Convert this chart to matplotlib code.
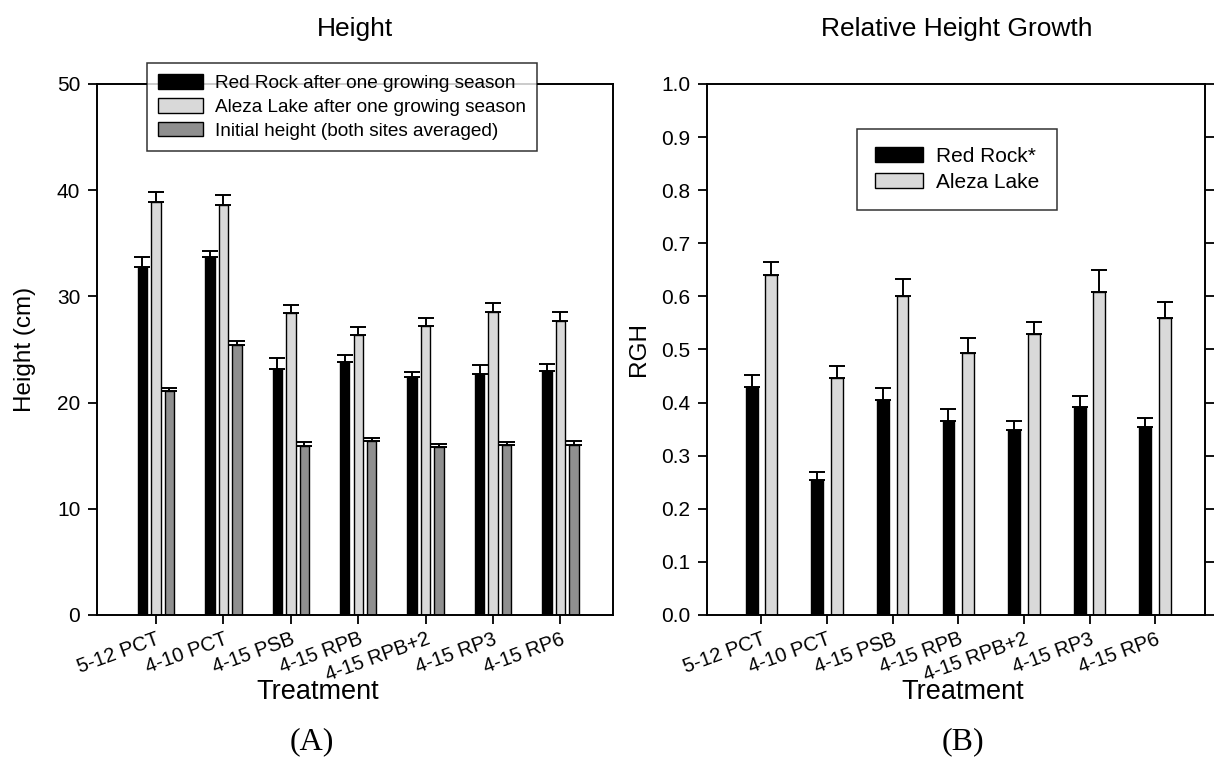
import numpy as np
import matplotlib.pyplot as plt

plt.rcParams['font.family'] = ['Liberation Sans', 'DejaVu Sans']

treatments = ['5-12 PCT', '4-10 PCT', '4-15 PSB', '4-15 RPB', '4-15 RPB+2', '4-15 RP3', '4-15 RP6']

# panel A: height (cm)
red_rock_h = [32.8, 33.7, 23.2, 23.8, 22.4, 22.7, 23.0]
red_rock_h_err = [0.9, 0.6, 1.0, 0.7, 0.5, 0.8, 0.6]
aleza_h = [38.9, 38.6, 28.4, 26.4, 27.2, 28.5, 27.7]
aleza_h_err = [0.95, 0.9, 0.8, 0.7, 0.8, 0.85, 0.8]
initial_h = [21.1, 25.4, 15.9, 16.4, 15.8, 16.0, 16.05]
initial_h_err = [0.3, 0.4, 0.35, 0.3, 0.3, 0.3, 0.35]

# panel B: relative height growth
red_rock_rgh = [0.429, 0.254, 0.405, 0.365, 0.348, 0.392, 0.354]
red_rock_rgh_err = [0.023, 0.015, 0.023, 0.023, 0.018, 0.020, 0.017]
aleza_rgh = [0.640, 0.447, 0.601, 0.494, 0.530, 0.608, 0.559]
aleza_rgh_err = [0.025, 0.022, 0.031, 0.028, 0.022, 0.041, 0.031]

x = np.arange(len(treatments))
black = '#000000'
light = '#d9d9d9'
dark = '#8f8f8f'

fig = plt.figure(figsize=(12.2, 7.72), dpi=100)
ax1 = fig.add_axes([0.0795, 0.2034, 0.423, 0.6878])
ax2 = fig.add_axes([0.5795, 0.2034, 0.4082, 0.6878])

ekw = dict(capsize=6, ecolor='black', elinewidth=1.4, capthick=1.4)
w = 0.14
zeros = np.zeros(len(x))
ax1.bar(x - 0.2, red_rock_h, w, color=black, edgecolor='black', linewidth=1,
        yerr=[zeros, red_rock_h_err], error_kw=ekw, label='Red Rock after one growing season')
ax1.bar(x, aleza_h, w, color=light, edgecolor='black', linewidth=1,
        yerr=[zeros, aleza_h_err], error_kw=ekw, label='Aleza Lake after one growing season')
ax1.bar(x + 0.2, initial_h, w, color=dark, edgecolor='black', linewidth=1,
        yerr=[zeros, initial_h_err], error_kw=ekw, label='Initial height (both sites averaged)')

w2 = 0.18
ax2.bar(x - 0.15, red_rock_rgh, w2, color=black, edgecolor='black', linewidth=1,
        yerr=[zeros, red_rock_rgh_err], error_kw=ekw, label='Red Rock*')
ax2.bar(x + 0.15, aleza_rgh, w2, color=light, edgecolor='black', linewidth=1,
        yerr=[zeros, aleza_rgh_err], error_kw=ekw, label='Aleza Lake')

ax1.set_xlim(-0.875, 6.78)
ax1.set_ylim(0, 50)
ax1.set_yticks(np.arange(0, 51, 10))
ax2.set_xlim(-0.83, 6.76)
ax2.set_ylim(0, 1.0)
ax2.set_yticks(np.round(np.arange(0, 1.01, 0.1), 1))
ax2.set_yticklabels(['%.1f' % v for v in np.arange(0, 1.01, 0.1)])

for ax in (ax1, ax2):
    ax.set_xticks(x)
    ax.set_xticklabels(treatments, rotation=20, ha='right', rotation_mode='anchor', fontsize=14.5)
    ax.tick_params(axis='both', direction='out', length=6.5, width=1.3, labelsize=15, pad=5.5)
    ax.tick_params(axis='x', labelsize=14.5, pad=4)
    for s in ax.spines.values():
        s.set_linewidth(1.4)

ax2.tick_params(axis='y', right=True, direction='out')

ax1.set_ylabel('Height (cm)', fontsize=17.5, labelpad=15)
ax2.set_ylabel('RGH', fontsize=17.5, labelpad=8)

fig.text(0.291, 0.962, 'Height', fontsize=19, ha='center', va='center')
fig.text(0.784, 0.962, 'Relative Height Growth', fontsize=19, ha='center', va='center')
fig.text(0.2607, 0.1036, 'Treatment', fontsize=19.5, ha='center', va='center')
fig.text(0.789, 0.1036, 'Treatment', fontsize=19.5, ha='center', va='center')
fig.text(0.2557, 0.039, '(A)', fontsize=23, ha='center', va='center', family='Liberation Serif')
fig.text(0.789, 0.039, '(B)', fontsize=23, ha='center', va='center', family='Liberation Serif')

leg1 = ax1.legend(loc='upper left', bbox_to_anchor=(147 / 1220, 1 - 63 / 772),
                  bbox_transform=fig.transFigure, fontsize=13.7, frameon=True, fancybox=False,
                  edgecolor='black', handlelength=2.35, handleheight=0.8, labelspacing=0.3,
                  borderpad=0.6, handletextpad=0.6, borderaxespad=0)
leg1.get_frame().set_linewidth(1.1)
leg2 = ax2.legend(loc='upper left', bbox_to_anchor=(857 / 1220, 1 - 129 / 772),
                  bbox_transform=fig.transFigure, fontsize=15, frameon=True, fancybox=False,
                  edgecolor='black', handlelength=2.3, handleheight=0.72, labelspacing=0.35,
                  borderpad=0.85, handletextpad=0.65, borderaxespad=0)
leg2.get_frame().set_linewidth(1.1)

fig.savefig('out.png', dpi=100)
